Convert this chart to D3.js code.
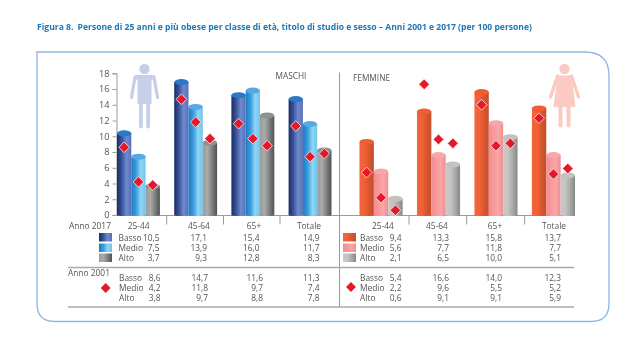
<!DOCTYPE html>
<html>
<head>
<meta charset="utf-8">
<script src="https://cdn.jsdelivr.net/npm/d3@7"></script>
<style>
html, body { margin: 0; padding: 0; background: #fff; overflow: hidden; }
svg { display: block; filter: blur(0.3px); }
text { font-family: "Open Sans", sans-serif; fill: #555; }
</style>
</head>
<body>
<div id="chart"></div>
<script>
const ageClasses = ["25-44", "45-64", "65+", "Totale"];
const levels = ["Basso", "Medio", "Alto"];
const yTicks = [0, 2, 4, 6, 8, 10, 12, 14, 16, 18];

// Anno 2017, barre
const maschi2017Basso = [10.5, 17.1, 15.4, 14.9];
const maschi2017Medio = [7.5, 13.9, 16.0, 11.7];
const maschi2017Alto = [3.7, 9.3, 12.8, 8.3];
const femmine2017Basso = [9.4, 13.3, 15.8, 13.7];
const femmine2017Medio = [5.6, 7.7, 11.8, 7.7];
const femmine2017Alto = [2.1, 6.5, 10.0, 5.1];

// Anno 2001, rombi
const maschi2001Basso = [8.6, 14.7, 11.6, 11.3];
const maschi2001Medio = [4.2, 11.8, 9.7, 7.4];
const maschi2001Alto = [3.8, 9.7, 8.8, 7.8];
const femmine2001Basso = [5.4, 16.6, 14.0, 12.3];
const femmine2001Medio = [2.2, 9.6, 5.5, 5.2];
const femmine2001Alto = [0.6, 9.1, 9.1, 5.9];
// nel grafico il rombo 65+ Medio sta a circa 8,8, mentre la tabella riporta 5,5
const femmine2001MedioRombi = [2.2, 9.6, 8.8, 5.2];

const svg = d3.select("#chart").append("svg").attr("width", 640).attr("height", 360);
const defs = svg.append("defs");

// sfumature dei cilindri
const palettes = {
    mBasso: { stops: ["#1b2c63", "#3a5499", "#6f8bd0", "#5570b4"], top: "#2a78c6" },
    mMedio: { stops: ["#1c7ac4", "#3a9bdc", "#8ed6f5", "#6fc4ee"], top: "#57a9e2" },
    mAlto: { stops: ["#9a9c9c", "#a9abab", "#7d7f7f", "#4f5252"], top: "#8f9191" },
    fBasso: { stops: ["#f4623a", "#f26236", "#d9562f", "#c24e2c"], top: "#ef5d33" },
    fMedio: { stops: ["#f58b8e", "#f79a9c", "#f9a6a6", "#ee8d90"], top: "#f9a8a8" },
    fAlto: { stops: ["#c9cac8", "#c4c5c3", "#a9aaa8", "#858785"], top: "#c2c3c1" }
};
Object.entries(palettes).forEach(([id, p]) => {
    const g = defs.append("linearGradient").attr("id", id);
    p.stops.forEach((c, i) => {
        g.append("stop").attr("offset", i / (p.stops.length - 1)).attr("stop-color", c);
    });
});

const y = d3.scaleLinear().domain([0, 18]).range([215, 73.3]);
// i cilindri nell'originale restano un po' sotto il valore dell'asse
const yBar = d3.scaleLinear().domain([0, 18]).range([215, 75]);

// cornice
const fx0 = 37, fy0 = 52, fx1 = 609, fy1 = 321.5;
svg.append("path")
    .attr("d", `M${fx0},${fy0} H${fx1 - 24} Q${fx1},${fy0} ${fx1},${fy0 + 24} V${fy1 - 18} Q${fx1},${fy1} ${fx1 - 18},${fy1} H${fx0 + 18} Q${fx0},${fy1} ${fx0},${fy1 - 18} Z`)
    .attr("fill", "none").attr("stroke", "#8db6e3").attr("stroke-width", 1.3);

// titolo
const titleStyle = sel => sel.style("font-size", "8.55px").style("font-weight", 700).style("fill", "#1c78b4");
svg.append("text").attr("x", 37).attr("y", 30).call(titleStyle).text("Figura 8.");
svg.append("text").attr("x", 77.6).attr("y", 30).call(titleStyle)
    .text("Persone di 25 anni e più obese per classe di età, titolo di studio e sesso – Anni 2001 e 2017 (per 100 persone)");

// figure
const icons = svg.append("g");
function person(cx, color, female) {
    const g = icons.append("g").attr("fill", color).attr("stroke", "none");
    g.append("circle").attr("cx", cx).attr("cy", 69).attr("r", 5.2);
    if (female) {
        g.append("path").attr("d", `M${cx - 7},75.5 H${cx + 7} L${cx + 11},107 H${cx - 11} Z`);
        g.append("path").attr("d", `M${cx - 7},76 L${cx - 14},97 M${cx + 7},76 L${cx + 14},97`)
            .attr("stroke", color).attr("stroke-width", 3.4).attr("stroke-linecap", "round");
        g.append("path").attr("d", `M${cx - 4},106 V125.5 M${cx + 4},106 V125.5`)
            .attr("stroke", color).attr("stroke-width", 4).attr("stroke-linecap", "round");
    } else {
        g.append("path").attr("d", `M${cx - 10},76 Q${cx - 9},75 ${cx - 7},75 H${cx + 7} Q${cx + 9},75 ${cx + 10},76 L${cx + 7},81 V104 H${cx - 7} V81 Z`);
        g.append("path").attr("d", `M${cx - 9.5},77 L${cx - 13},97.5 M${cx + 9.5},77 L${cx + 13},97.5`)
            .attr("stroke", color).attr("stroke-width", 3.2).attr("stroke-linecap", "round").attr("fill", "none");
        g.append("path").attr("d", `M${cx - 3.6},100 V126.5 M${cx + 3.6},100 V126.5`)
            .attr("stroke", color).attr("stroke-width", 3.8).attr("stroke-linecap", "round");
    }
}
person(144.5, "#c5d0e8", false);
person(564.5, "#fbcac3", true);

// assi
const gray = "#9a9a9a";
const axis = svg.append("g").attr("transform", "translate(116.5,0)")
    .call(d3.axisLeft(y).tickValues(yTicks).tickSize(4).tickPadding(3));
axis.selectAll("path,line").attr("stroke", gray);
axis.selectAll("text").style("font-size", "9.2px").style("font-family", '"Open Sans", sans-serif');

svg.append("line").attr("x1", 116).attr("x2", 575).attr("y1", 215.5).attr("y2", 215.5)
    .attr("stroke", gray).attr("stroke-width", 1.2);
svg.append("line").attr("x1", 339.5).attr("x2", 339.5).attr("y1", 72.5).attr("y2", 307)
    .attr("stroke", gray).attr("stroke-width", 1);

[166.7, 223.5, 280, 409, 466.7, 524.7].forEach(x => {
    svg.append("line").attr("x1", x).attr("x2", x).attr("y1", 215).attr("y2", 224.5)
        .attr("stroke", gray).attr("stroke-width", 1);
});

svg.append("text").attr("x", 275.5).attr("y", 79).style("font-size", "8.3px").text("MASCHI");
svg.append("text").attr("x", 353).attr("y", 81).style("font-size", "8.3px").text("FEMMINE");

// pannello: barre e rombi
function panel(range, bars, diamonds, prefix) {
    const x0 = d3.scaleBand().domain(ageClasses).range(range).paddingInner(0.25);
    const x1 = d3.scaleBand().domain(levels).range([0, x0.bandwidth()]);
    const rows = ageClasses.map((age, i) =>
        levels.map((lev, j) => ({ age, lev, v: bars[j][i], d: diamonds[j][i] })));
    const g = svg.append("g");

    const groups = g.selectAll("g").data(rows).join("g")
        .attr("transform", (d, i) => `translate(${x0(ageClasses[i])},0)`);
    const bw = x1.bandwidth();
    const ry = 3;

    const cyl = groups.selectAll("g").data(d => d).join("g")
        .attr("transform", d => `translate(${x1(d.lev)},0)`);
    cyl.append("path")
        .attr("d", d => `M0,${yBar(d.v)} V215 A${bw / 2},1 0 0 0 ${bw},215 V${yBar(d.v)} Z`)
        .attr("fill", d => `url(#${prefix}${d.lev})`);
    cyl.append("ellipse")
        .attr("cx", bw / 2).attr("cy", d => yBar(d.v))
        .attr("rx", bw / 2).attr("ry", ry)
        .attr("fill", d => palettes[prefix + d.lev].top);

    const symbol = d3.symbol().type(d3.symbolDiamond2).size(72);
    groups.selectAll("path.rombo").data(d => d).join("path")
        .attr("class", "rombo")
        .attr("transform", d => `translate(${x1(d.lev) + bw / 2},${y(d.d)})`)
        .attr("d", symbol)
        .attr("fill", "#e5172b")
        .attr("stroke", "#fbdcdc").attr("stroke-width", 0.9);
}

panel([117, 331.5],
    [maschi2017Basso, maschi2017Medio, maschi2017Alto],
    [maschi2001Basso, maschi2001Medio, maschi2001Alto], "m");
panel([359.5, 575],
    [femmine2017Basso, femmine2017Medio, femmine2017Alto],
    [femmine2001Basso, femmine2001MedioRombi, femmine2001Alto], "f");

// tabella
const fmt = v => v.toFixed(1).replace(".", ",");
const size = "8.4px";

function label(x, yy, txt, anchor) {
    svg.append("text").attr("x", x).attr("y", yy).attr("text-anchor", anchor || "start")
        .style("font-size", size).text(txt);
}

label(69, 229, "Anno 2017");
label(68, 276, "Anno 2001");

const headM = [138.7, 199, 254, 309];
const headF = [383, 437, 495, 554];
ageClasses.forEach((a, i) => {
    label(headM[i], 229, a, "middle");
    label(headF[i], 229, a, "middle");
});

const rowY2017 = [240.5, 251, 261];
const rowY2001 = [281, 291, 301];
const colM2017 = [159.5, 207, 259.5, 319.5];
const colM2001 = [160.5, 208, 263, 319.5];
const colF2017 = [401.5, 449, 502, 561];
const colF2001 = [401.5, 449, 502, 561];

function block(rowY, labelX, cols, values) {
    levels.forEach((lev, j) => {
        label(labelX, rowY[j], lev);
        values[j].forEach((v, i) => label(cols[i], rowY[j], fmt(v), "end"));
    });
}
block(rowY2017, 118.5, colM2017, [maschi2017Basso, maschi2017Medio, maschi2017Alto]);
block(rowY2001, 119, colM2001, [maschi2001Basso, maschi2001Medio, maschi2001Alto]);
block(rowY2017, 360, colF2017, [femmine2017Basso, femmine2017Medio, femmine2017Alto]);
block(rowY2001, 360, colF2001, [femmine2001Basso, femmine2001Medio, femmine2001Alto]);

// legenda
levels.forEach((lev, j) => {
    svg.append("rect").attr("x", 99).attr("y", rowY2017[j] - 7.5).attr("width", 13).attr("height", 8.5)
        .attr("fill", `url(#m${lev})`);
    svg.append("rect").attr("x", 343).attr("y", rowY2017[j] - 7.5).attr("width", 13).attr("height", 8.5)
        .attr("fill", `url(#f${lev})`);
});
[[105.7, 288], [351, 287]].forEach(p => {
    svg.append("path").attr("transform", `translate(${p[0]},${p[1]})`)
        .attr("d", d3.symbol().type(d3.symbolDiamond2).size(62)).attr("fill", "#e5172b");
});

// righe della tabella
[267.5, 307].forEach(yy => {
    svg.append("line").attr("x1", 68).attr("x2", 574).attr("y1", yy).attr("y2", yy)
        .attr("stroke", "#aaa").attr("stroke-width", 1.6);
});
</script>
</body>
</html>
